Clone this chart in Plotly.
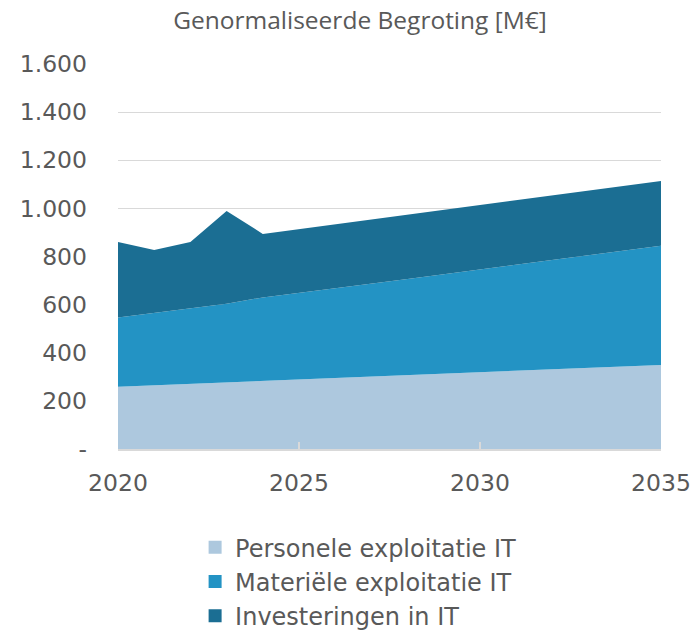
import plotly.graph_objects as go

years = list(range(2020, 2036))
personele = [259, 265, 271, 277, 283, 289, 295, 301, 307, 313, 319, 325, 331, 337, 343, 349]
materiele = [287, 301, 315, 327, 347, 361, 374, 387, 400, 413, 427, 440, 454, 468, 482, 496]
investeringen = [314, 261, 274, 385, 264, 264, 265, 266, 267, 268, 268, 269, 269, 269, 269, 269]

series_names = ["Personele exploitatie IT", "Materiële exploitatie IT", "Investeringen in IT"]
series_values = [personele, materiele, investeringen]
colors = ["#ADC8DE", "#2393C4", "#1B6E93"]

y_tickvals = [0, 200, 400, 600, 800, 1000, 1200, 1400, 1600]
y_ticktext = ["-", "200", "400", "600", "800", "1.000", "1.200", "1.400", "1.600"]
x_tickvals = [2020, 2025, 2030, 2035]

fig = go.Figure()
for name, vals, col in zip(series_names, series_values, colors):
    fig.add_trace(go.Scatter(
        x=years, y=vals, name=name, stackgroup="one", mode="lines",
        line=dict(width=0, color=col), fillcolor=col, showlegend=False,
    ))
# legend-only entries with square swatches
for name, col in zip(series_names, colors):
    fig.add_trace(go.Scatter(
        x=[None], y=[None], name=name, mode="markers",
        marker=dict(symbol="square", size=13, color=col), showlegend=True,
    ))

font_fam = '"DejaVu Sans", Verdana, sans-serif'
grey = "#595959"
W, H = 695, 633
fig.update_layout(
    width=W, height=H,
    margin=dict(l=118, r=34, t=64, b=184, autoexpand=False),
    paper_bgcolor="white", plot_bgcolor="white",
    font=dict(family=font_fam, color=grey, size=23),
    title=dict(text="Genormaliseerde Begroting [M€]", x=360 / W, xanchor="center",
               y=1 - 20 / H, yanchor="middle", yref="container",
               font=dict(size=24.5, color=grey, family='"Open Sans", sans-serif')),
    showlegend=True,
    legend=dict(orientation="v", traceorder="normal", x=0.142, xanchor="left",
                y=-0.198, yanchor="top", font=dict(size=24, color=grey, family=font_fam),
                itemwidth=30, tracegroupgap=0),
)
fig.update_xaxes(range=[2020, 2035], tickvals=x_tickvals, showgrid=False,
                 showline=True, linecolor="#D9D9D9", linewidth=2,
                 ticks="inside", ticklen=7, tickcolor="#D9D9D9", tickwidth=2,
                 tickfont=dict(size=23.5, color=grey, family=font_fam), zeroline=False,
                 automargin=False, ticklabelstandoff=12)
fig.update_yaxes(range=[0, 1600], tickvals=y_tickvals, ticktext=y_ticktext,
                 showgrid=True, gridcolor="#D9D9D9", gridwidth=1,
                 zeroline=False, showline=False, ticks="",
                 tickfont=dict(size=23.5, color=grey, family=font_fam),
                 ticklabelstandoff=30, automargin=False)

fig.write_html("out.html", config={"displayModeBar": False},
               post_script="document.body.style.margin='0';")
